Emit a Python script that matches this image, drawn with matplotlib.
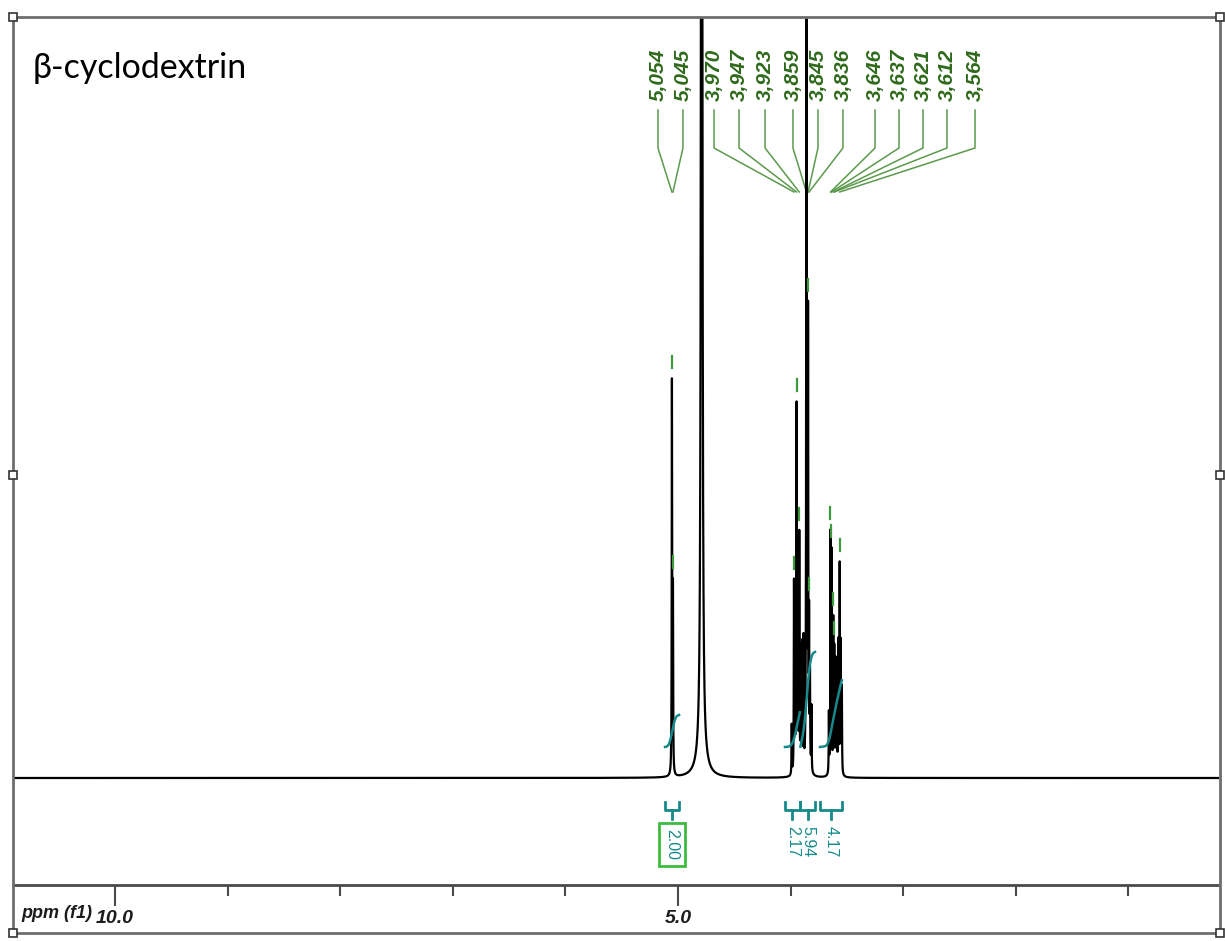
import numpy as np
import matplotlib
matplotlib.use("Agg")
import matplotlib.pyplot as plt
from matplotlib.patches import Rectangle

# ---- data -----------------------------------------------------------------
# picked peaks (ppm) and their labels
peak_labels = ["5,054", "5,045", "3,970", "3,947", "3,923", "3,859", "3,845",
               "3,836", "3,646", "3,637", "3,621", "3,612", "3,564"]
peak_ppm = [5.054, 5.045, 3.970, 3.947, 3.923, 3.859, 3.845,
            3.836, 3.646, 3.637, 3.621, 3.612, 3.564]
peak_height = [390, 180, 190, 365, 235, 1400, 440, 140, 235, 215, 150, 120, 205]

# smaller unlabelled lines inside the multiplets
extra_ppm = [3.990, 3.960, 3.935, 3.910, 3.898, 3.885, 3.828, 3.815,
             3.660, 3.600, 3.590, 3.577, 3.555, 3.545]
extra_height = [50, 110, 150, 120, 125, 130, 90, 65, 60, 110, 100, 130, 125, 85]

# residual water line
hdo_ppm = 4.79
hdo_height = 2500

# integral regions
int_start = [5.115, 4.050, 3.913, 3.739]
int_end = [4.990, 3.917, 3.783, 3.544]
int_value = [2.00, 2.17, 5.94, 4.17]
int_text = ["2.00", "2.17", "5.94", "4.17"]

# ---- layout (where the software put the labels, in ppm) --------------------
label_pos = [5.178, 4.956, 4.680, 4.458, 4.227, 3.979, 3.757,
             3.535, 3.250, 3.037, 2.824, 2.611, 2.362]

W, H = 1225, 941
fig = plt.figure(figsize=(W / 100, H / 100), dpi=100)
fig.patch.set_facecolor("white")

# spectrum axes, units on y are screen pixels above the baseline
left, right, top, axis_y = 13, 1219, 17, 885
base_y = 778
ax = fig.add_axes([left / W, (H - axis_y) / H, (right - left) / W, (axis_y - top) / H])
ax.set_xlim(5 + (678 - left) / 112.6, 5 - (right - 678) / 112.6)
ax.set_ylim(-(axis_y - base_y), base_y - top)

ppm = np.arange(10.906, 0.19, -0.0005)


def lor(x0, h, w):
    return h * w ** 2 / (w ** 2 + (ppm - x0) ** 2)


spec = np.zeros_like(ppm)
for p, h in zip(peak_ppm, peak_height):
    spec += lor(p, h, 0.002)
for p, h in zip(extra_ppm, extra_height):
    spec += lor(p, h, 0.002)
spec += lor(hdo_ppm, hdo_height, 0.0045)
spec += lor(hdo_ppm, 15, 0.05)

ax.plot(ppm, spec, color="black", lw=1.6, zorder=3)

# peak pick marks
for p in peak_ppm:
    v = np.interp(p, ppm[::-1], spec[::-1])
    if v < 700:
        ax.plot([p, p], [v + 10, v + 22], color="#3c9a3c", lw=1.6, zorder=4)

# integral curves, brackets and values
teal = "#16898a"
kern_x = np.arange(-120, 121)
kern = np.exp(-0.5 * (kern_x / 40.0) ** 2)
smooth = np.convolve(spec, kern / kern.sum(), mode="same")
for s, e, val, txt in zip(int_start, int_end, int_value, int_text):
    m = (ppm <= s) & (ppm >= e)
    c = np.cumsum(smooth[m])
    c = c / c[-1]
    ax.plot(ppm[m], 31 + 16 * val * c, color=teal, lw=1.8, zorder=5)
    mid = (s + e) / 2
    ax.plot([s, s, e, e], [-24, -32, -32, -24], color=teal, lw=2, zorder=5)
    ax.plot([mid, mid], [-32, -41], color=teal, lw=2, zorder=5)
    kw = dict(rotation=270, ha="center", va="top", color=teal, fontsize=11.5,
              family="Liberation Sans")
    if txt == "2.00":
        kw["bbox"] = dict(boxstyle="square,pad=0.35", fc="white", ec="#3dbb3d", lw=2)
        ax.text(mid, -51, txt, **kw)
    else:
        ax.text(mid, -48, txt, **kw)

# peak labels with leader lines
lab_col = "#2f6a1c"
lead_col = "#5b9a4c"
for lab, p, lp in zip(peak_labels, peak_ppm, label_pos):
    ax.text(lp, 677, lab, rotation=90, ha="center", va="bottom", color=lab_col,
            fontsize=15, fontweight="bold", style="italic", family="Liberation Sans")
    ax.plot([lp, lp, p], [668, 630, 586], color=lead_col, lw=1.1, zorder=2)

# axes decoration
for sp in ["top", "left", "right"]:
    ax.spines[sp].set_visible(False)
ax.spines["bottom"].set_color("#4a4a4a")
ax.spines["bottom"].set_linewidth(2)
ax.set_yticks([])
ax.set_xticks([10, 5])
ax.set_xticks(np.arange(1, 11), minor=True)
ax.set_xticklabels(["10.0", "5.0"], fontsize=14, fontweight="bold", style="italic",
                   family="Liberation Sans", color="#1c1c1c")
ax.tick_params(axis="x", which="major", length=15, width=1.5, color="#4a4a4a", pad=3)
ax.tick_params(axis="x", which="minor", length=8, width=1.5, color="#4a4a4a")
ax.patch.set_alpha(0)

fig.text(21 / W, 1 - 918 / H, "ppm (f1)", ha="left", va="baseline", fontsize=13,
         fontweight="bold", style="italic", family="Liberation Sans", color="#1c1c1c")
fig.text(33 / W, 1 - 78 / H, "β-cyclodextrin", ha="left", va="baseline",
         fontsize=24.5, family="Lato", color="black")

# selection frame around the picture
ov = fig.add_axes([0, 0, 1, 1])
ov.set_xlim(0, W)
ov.set_ylim(H, 0)
ov.axis("off")
ov.patch.set_alpha(0)
fx0, fy0, fx1, fy1 = 13, 17, 1220, 933
ov.add_patch(Rectangle((fx0, fy0), fx1 - fx0, fy1 - fy0, fill=False, ec="#6e6e6e", lw=2))
for hx in [fx0, fx1]:
    for hy in [fy0, (fy0 + fy1) / 2, fy1]:
        ov.add_patch(Rectangle((hx - 4, hy - 4), 8, 8, fc="white", ec="#333333", lw=1.2))

fig.savefig("out.png", dpi=100)
